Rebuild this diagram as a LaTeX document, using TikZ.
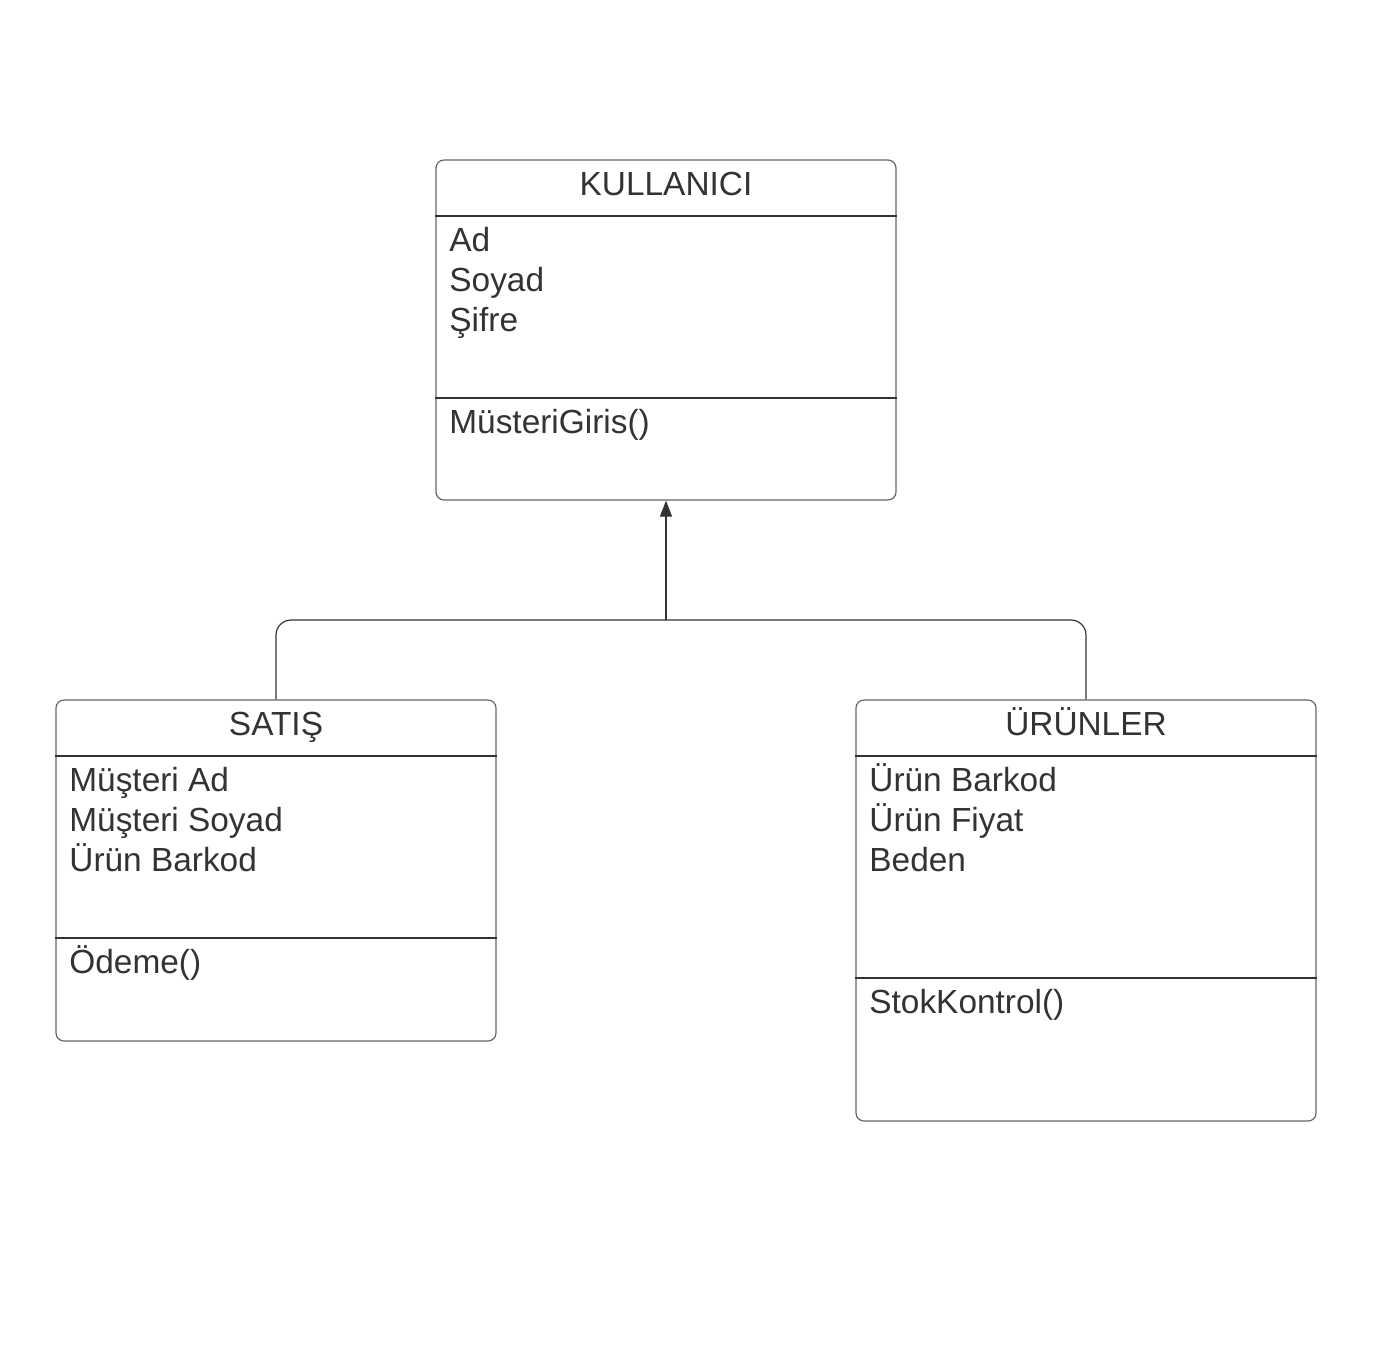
\documentclass[tikz,border=0pt]{standalone}
\usepackage{fontspec}
\setmainfont{Liberation Sans}
\usetikzlibrary{arrows.meta}
\definecolor{ink}{HTML}{333333}
\tikzset{>={Triangle[length=8pt,width=6pt]}}
\tikzset{
  classbox/.style={draw=black!60, rounded corners=4pt, line width=0.6pt, minimum width=230pt},
  divider/.style={draw=ink, line width=0.6pt},
  link/.style={draw=ink, line width=0.6pt},
  title/.style={anchor=base, inner sep=0pt, text=ink, font=\fontsize{16.7}{20}\selectfont},
  attr/.style={anchor=base west, inner sep=0pt, text=ink, font=\fontsize{16.7}{20}\selectfont}
}

\begin{document}
\begin{tikzpicture}[x=0.5pt,y=-0.5pt]
\useasboundingbox (0,0) rectangle (1381,1357);

% KULLANICI
\node[classbox, minimum height=170pt] (kul) at (666,330) {};
\draw[divider] (kul.west |- 0,216) -- (kul.east |- 0,216);
\draw[divider] (kul.west |- 0,398) -- (kul.east |- 0,398);
\node[title] (kulT) at (666,195) {KULLANICI};
\node[attr] (kulA) at (449,251) {Ad};
\node[attr] (kulB) at (449,291) {Soyad};
\node[attr] (kulC) at (449,331) {Şifre};
\node[attr] (kulM) at (449,433) {MüsteriGiris()};

% SATIŞ
\node[classbox, minimum width=220pt, minimum height=170.5pt] (sat) at (276,870.5) {};
\draw[divider] (sat.west |- 0,756) -- (sat.east |- 0,756);
\draw[divider] (sat.west |- 0,938) -- (sat.east |- 0,938);
\node[title] (satT) at (276,735) {SATIŞ};
\node[attr] (satA) at (69,791) {Müşteri Ad};
\node[attr] (satB) at (69,831) {Müşteri Soyad};
\node[attr] (satC) at (69,871) {Ürün Barkod};
\node[attr] (satM) at (69,973) {Ödeme()};

% URUNLER
\node[classbox, minimum height=210.5pt] (uru) at (1086,910.5) {};
\draw[divider] (uru.west |- 0,756) -- (uru.east |- 0,756);
\draw[divider] (uru.west |- 0,978) -- (uru.east |- 0,978);
\node[title] (uruT) at (1086,735) {ÜRÜNLER};
\node[attr] (uruA) at (869,791) {Ürün Barkod};
\node[attr] (uruB) at (869,831) {Ürün Fiyat};
\node[attr] (uruC) at (869,871) {Beden};
\node[attr] (uruM) at (869,1013) {StokKontrol()};

% kalitim
\coordinate (fork) at (666,620);
\draw[link, rounded corners=7.5pt] (sat.north) |- (fork) -| (uru.north);
\draw[link, ->] (fork) -- (kul.south);
\end{tikzpicture}
\end{document}
